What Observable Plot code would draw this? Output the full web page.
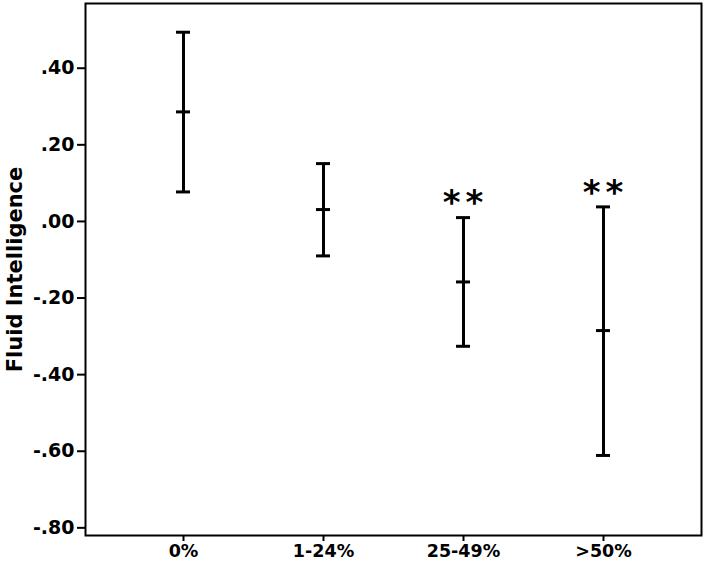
<!DOCTYPE html>
<html><head><meta charset="utf-8">
<script src="https://cdn.jsdelivr.net/npm/d3@7"></script>
<script src="https://cdn.jsdelivr.net/npm/@observablehq/plot@0.6"></script>
<style>
body{margin:0;background:#fff}
.stars text{letter-spacing:5px}
</style>
</head><body><div id="chart"></div>
<script>
const categories = ["0%", "1-24%", "25-49%", ">50%"];
const means = [0.286, 0.031, -0.158, -0.285];
const lower = [0.077, -0.090, -0.326, -0.611];
const upper = [0.494, 0.151, 0.010, 0.038];
const significance = ["", "", "**", "**"];
const yTicks = [0.4, 0.2, 0, -0.2, -0.4, -0.6, -0.8];
const yTickLabels = [".40", ".20", ".00", "-.20", "-.40", "-.60", "-.80"];
const yLabel = ["Fluid Intelligence"];

const data = categories.map((c, i) => ({cat: c, mean: means[i], lo: lower[i], hi: upper[i], sig: significance[i]}));

const chart = Plot.plot({
  width: 709, height: 565,
  marginLeft: 85, marginRight: 8, marginTop: 3, marginBottom: 30,
  style: {fontFamily: "'DejaVu Sans', sans-serif", fontWeight: "bold", color: "#000", background: "#fff"},
  x: {type: "band", domain: categories, paddingInner: 0.9, paddingOuter: 0.65},
  y: {domain: [-0.82, 0.569]},
  marks: [
    Plot.axisY({ticks: yTicks, tickFormat: d => yTickLabels[yTicks.indexOf(d)], tickSize: 8, tickPadding: 3, fontSize: 19, strokeWidth: 2, label: null}),
    Plot.axisX({tickSize: 6, tickPadding: 3, fontSize: 17.5, strokeWidth: 2, label: null}),
    Plot.ruleX(data, {x: "cat", y1: "lo", y2: "hi", stroke: "#000", strokeWidth: 3}),
    Plot.tickY(data, {x: "cat", y: "hi", stroke: "#000", strokeWidth: 3}),
    Plot.tickY(data, {x: "cat", y: "mean", stroke: "#000", strokeWidth: 3}),
    Plot.tickY(data, {x: "cat", y: "lo", stroke: "#000", strokeWidth: 3}),
    Plot.text(data.filter(d => d.sig), {x: "cat", y: "hi", text: "sig", dy: -14, dx: 2, fontSize: 34, fontWeight: "bold", lineAnchor: "middle", className: "stars"}),
    Plot.frame({stroke: "#000", strokeWidth: 2}),
    Plot.text(yLabel, {frameAnchor: "left", text: d => d, rotate: -90, dx: -70, textAnchor: "middle", fontSize: 21})
  ]
});
document.getElementById("chart").appendChild(chart);
</script>
</body></html>
